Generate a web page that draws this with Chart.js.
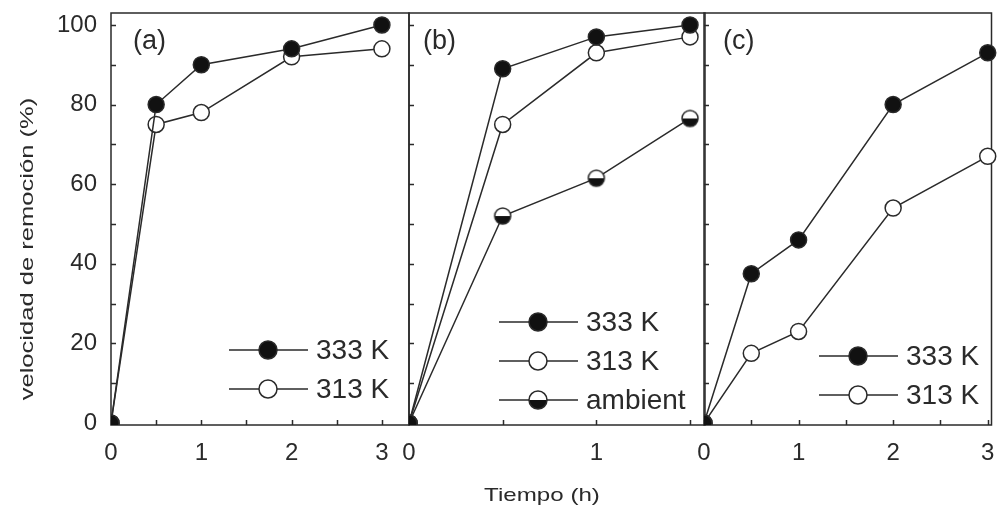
<!DOCTYPE html>
<html>
<head>
<meta charset="utf-8">
<script src="https://cdn.jsdelivr.net/npm/chart.js@4.4.1/dist/chart.umd.min.js"></script>
<style>
  html, body { margin: 0; padding: 0; background: #fff; }
  #wrap { position: relative; width: 1001px; height: 510px; }
  #wrap canvas { position: absolute; left: 0; top: 0; }
</style>
</head>
<body>
<div id="wrap">
  <canvas id="chartA" width="1001" height="510"></canvas>
  <canvas id="chartB" width="1001" height="510"></canvas>
  <canvas id="chartC" width="1001" height="510"></canvas>
</div>
<script>
// data (time in h, removal in %)
const timeA = [0, 0.5, 1, 2, 3];
const a333 = [0, 80, 90, 94, 100];
const a313 = [0, 75, 78, 92, 94];

const timeB = [0, 0.5, 1, 1.5];
const b333 = [0, 89, 97, 100];
const b313 = [0, 75, 93, 97];
const bAmbient = [0, 52, 61.5, 76.5];

const timeC = [0, 0.5, 1, 2, 3];
const c333 = [0, 37.5, 46, 80, 93];
const c313 = [0, 17.5, 23, 54, 67];

const yTickLabels = [0, 20, 40, 60, 80, 100];
const seriesNames = ["333 K", "313 K", "ambient"];
const panelNames = ["(a)", "(b)", "(c)"];
const xTitle = "Tiempo (h)";
const yTitle = "velocidad de remoción (%)";

const INK = "#2a2a2a";
const FONT = "'Liberation Sans', Arial, sans-serif";

// half filled marker (white top, black bottom)
function makeHalf(r) {
  const c = document.createElement("canvas");
  const s = Math.ceil(r * 2 + 4);
  c.width = s;
  c.height = s;
  const g = c.getContext("2d");
  const m = s / 2;
  g.beginPath();
  g.arc(m, m, r, 0, Math.PI * 2);
  g.fillStyle = "#fff";
  g.fill();
  g.beginPath();
  g.arc(m, m, r, 0, Math.PI);
  g.closePath();
  g.fillStyle = "#111";
  g.fill();
  g.beginPath();
  g.arc(m, m, r, 0, Math.PI * 2);
  g.lineWidth = 1.5;
  g.strokeStyle = INK;
  g.stroke();
  return c;
}

const halfPoint = makeHalf(8);
const halfLegend = makeHalf(9);

const markers = {
  filled: { style: "circle", fill: "#111" },
  open: { style: "circle", fill: "#fff" },
  half: { style: halfPoint, fill: "#fff", legendImg: halfLegend },
};

function pts(xs, ys) {
  return xs.map((x, i) => ({ x: x, y: ys[i] }));
}

function drawMarker(ctx, kind, x, y, r) {
  const mk = markers[kind];
  if (mk.legendImg) {
    const img = mk.legendImg;
    ctx.drawImage(img, x - img.width / 2, y - img.height / 2);
    return;
  }
  ctx.beginPath();
  ctx.arc(x, y, r, 0, Math.PI * 2);
  ctx.fillStyle = mk.fill;
  ctx.fill();
  ctx.lineWidth = 1.5;
  ctx.strokeStyle = INK;
  ctx.stroke();
}

// frame + inward ticks, panel label, legend and (for panel a) the axis titles
const panelPlugin = {
  id: "panel",
  beforeDatasetsDraw(chart, args, opts) {
    const ctx = chart.ctx;
    const a = chart.chartArea;
    const xs = chart.scales.x;
    const ys = chart.scales.y;
    ctx.save();
    ctx.strokeStyle = INK;
    ctx.lineWidth = 1.5;
    ctx.strokeRect(a.left, a.top, a.right - a.left, a.bottom - a.top);

    // tick marks pointing into the plot
    ctx.beginPath();
    ys.ticks.forEach((t) => {
      const py = Math.round(ys.getPixelForValue(t.value)) + 0.5;
      ctx.moveTo(a.left, py);
      ctx.lineTo(a.left + 5, py);
    });
    xs.ticks.forEach((t) => {
      const px = Math.round(xs.getPixelForValue(t.value)) + 0.5;
      ctx.moveTo(px, a.bottom);
      ctx.lineTo(px, a.bottom - 5);
    });
    ctx.stroke();
    ctx.restore();
  },
  afterDraw(chart, args, opts) {
    const ctx = chart.ctx;
    const a = chart.chartArea;
    ctx.save();
    ctx.fillStyle = INK;
    ctx.textBaseline = "middle";
    ctx.textAlign = "left";
    ctx.font = "27px " + FONT;
    ctx.fillText(opts.label, a.left + opts.labelDx, a.top + 29);

    // legend: line, marker, text
    const lg = opts.legend;
    lg.items.forEach((item, i) => {
      const y = lg.y + i * 39;
      const x0 = a.left + lg.dx;
      ctx.beginPath();
      ctx.moveTo(x0, y);
      ctx.lineTo(x0 + 79, y);
      ctx.strokeStyle = INK;
      ctx.lineWidth = 1.5;
      ctx.stroke();
      drawMarker(ctx, item.kind, x0 + 39, y, 9);
      ctx.fillStyle = INK;
      ctx.font = "28px " + FONT;
      ctx.fillText(item.text, x0 + 87, y + 1);
    });

    if (opts.titles) {
      ctx.font = "19px " + FONT;
      ctx.textAlign = "center";
      ctx.textBaseline = "alphabetic";
      ctx.save();
      ctx.translate(542, 501);
      ctx.scale(1.27, 1);
      ctx.fillText(xTitle, 0, 0);
      ctx.restore();
      ctx.font = "18px " + FONT;
      ctx.save();
      ctx.translate(33, 249);
      ctx.rotate(-Math.PI / 2);
      ctx.scale(1.42, 1);
      ctx.fillText(yTitle, 0, 0);
      ctx.restore();
    }
    ctx.restore();
  },
};

function makeChart(id, cfg) {
  const datasets = cfg.series.map((s) => ({
    label: s.label,
    data: pts(cfg.time, s.values),
    borderColor: INK,
    borderWidth: 1.5,
    tension: 0,
    pointStyle: markers[s.kind].style,
    pointRadius: 8,
    pointHoverRadius: 8,
    pointBackgroundColor: markers[s.kind].fill,
    pointBorderColor: INK,
    pointBorderWidth: 1.5,
    clip: { left: 0, bottom: 0, top: 30, right: 30 },
  }));

  return new Chart(document.getElementById(id), {
    type: "line",
    data: { datasets: datasets },
    options: {
      responsive: false,
      animation: false,
      devicePixelRatio: 1,
      events: [],
      layout: {
        padding: { left: cfg.left, right: 1001 - cfg.right, top: 13, bottom: 0 },
      },
      scales: {
        x: {
          type: "linear",
          min: 0,
          max: cfg.xMax,
          afterFit: (s) => {
            s.height = 85;
            s.paddingLeft = 0;
            s.paddingRight = 0;
          },
          ticks: {
            stepSize: 0.5,
            includeBounds: false,
            autoSkip: false,
            maxRotation: 0,
            padding: 14,
            color: INK,
            font: { family: FONT, size: 24 },
            callback: (v) => (Number.isInteger(v) ? v : ""),
          },
          grid: { display: false, drawTicks: false, tickLength: 0 },
          border: { display: false },
        },
        y: {
          min: -0.5,
          max: 103,
          afterFit: (s) => {
            s.width = cfg.yWidth;
            s.paddingTop = 0;
            s.paddingBottom = 0;
          },
          ticks: {
            display: cfg.yLabels,
            stepSize: 10,
            includeBounds: false,
            padding: 14,
            color: INK,
            font: { family: FONT, size: 24 },
            callback: (v) => (yTickLabels.includes(v) ? v : ""),
          },
          grid: { display: false, drawTicks: false, tickLength: 0 },
          border: { display: false },
        },
      },
      plugins: {
        legend: { display: false },
        tooltip: { enabled: false },
        panel: cfg.panel,
      },
    },
    plugins: [panelPlugin],
  });
}

makeChart("chartA", {
  time: timeA,
  left: 0,
  right: 409,
  yWidth: 111,
  yLabels: true,
  xMax: 3.3,
  series: [
    { label: seriesNames[0], values: a333, kind: "filled" },
    { label: seriesNames[1], values: a313, kind: "open" },
  ],
  panel: {
    label: panelNames[0],
    labelDx: 22,
    titles: true,
    legend: {
      dx: 118,
      y: 350,
      items: [
        { text: seriesNames[0], kind: "filled" },
        { text: seriesNames[1], kind: "open" },
      ],
    },
  },
});

makeChart("chartB", {
  time: timeB,
  left: 409,
  right: 705,
  yWidth: 0,
  yLabels: false,
  xMax: 1.58,
  series: [
    { label: seriesNames[0], values: b333, kind: "filled" },
    { label: seriesNames[1], values: b313, kind: "open" },
    { label: seriesNames[2], values: bAmbient, kind: "half" },
  ],
  panel: {
    label: panelNames[1],
    labelDx: 14,
    legend: {
      dx: 90,
      y: 322,
      items: [
        { text: seriesNames[0], kind: "filled" },
        { text: seriesNames[1], kind: "open" },
        { text: seriesNames[2], kind: "half" },
      ],
    },
  },
});

makeChart("chartC", {
  time: timeC,
  left: 704,
  right: 996,
  yWidth: 0,
  yLabels: false,
  xMax: 3.04,
  series: [
    { label: seriesNames[0], values: c333, kind: "filled" },
    { label: seriesNames[1], values: c313, kind: "open" },
  ],
  panel: {
    label: panelNames[2],
    labelDx: 19,
    legend: {
      dx: 115,
      y: 356,
      items: [
        { text: seriesNames[0], kind: "filled" },
        { text: seriesNames[1], kind: "open" },
      ],
    },
  },
});
</script>
</body>
</html>
